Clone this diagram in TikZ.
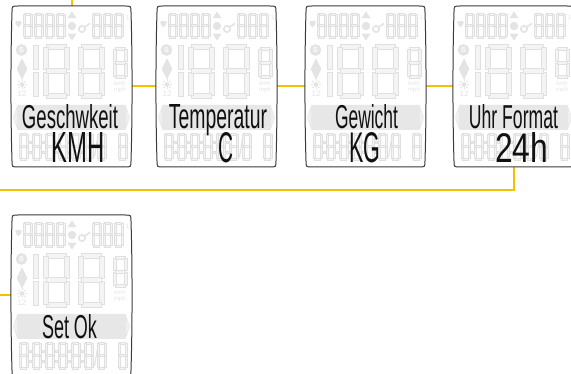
\documentclass[tikz,border=0pt]{standalone}
\usepackage{fontspec}
\setmainfont{Liberation Sans}
\usepackage{graphicx}
\usetikzlibrary{backgrounds}

\definecolor{linkyellow}{HTML}{F6C200}
\definecolor{frame}{HTML}{3A3A3A}
\definecolor{segfill}{HTML}{F4F4F4}
\definecolor{segline}{HTML}{E0E0E0}
\definecolor{icongrey}{HTML}{E4E4E4}
\definecolor{bandgrey}{HTML}{E7E7E7}
\definecolor{ink}{HTML}{111111}

\tikzset{
  link/.style={draw=linkyellow, line width=2pt},
  panelbox/.style={minimum width=119pt, minimum height=161pt, inner sep=0pt, outer sep=0pt},
  segment/.style={fill=segfill, draw=segline, line width=0.5pt},
  faded/.style={fill=icongrey, draw=segline, line width=0.4pt},
  fadedtext/.style={text=icongrey, inner sep=0pt, font=\fontsize{7}{7}\selectfont},
  labeltext/.style={anchor=base, inner sep=0pt, text=ink},
  displayframe/.style={draw=frame, fill=white, line width=1pt},
}

% label in the text band and value below it, stretched to the display's letter size
\newcommand\lab[2]{\resizebox{#1pt}{24pt}{#2}}
\newcommand\val[2]{\resizebox{#1pt}{30pt}{#2}}

% seven-segment digit: left x, top y, width, height, stroke
\newcommand\segdigit[5]{%
  \path[segment] ({#1+0.6*#5},{#2}) rectangle ({#1+#3-0.6*#5},{#2+#5});
  \path[segment] ({#1+#3-#5},{#2+0.6*#5}) rectangle ({#1+#3},{#2+#4/2-0.3*#5});
  \path[segment] ({#1+#3-#5},{#2+#4/2+0.3*#5}) rectangle ({#1+#3},{#2+#4-0.6*#5});
  \path[segment] ({#1+0.6*#5},{#2+#4-#5}) rectangle ({#1+#3-0.6*#5},{#2+#4});
  \path[segment] ({#1},{#2+#4/2+0.3*#5}) rectangle ({#1+#5},{#2+#4-0.6*#5});
  \path[segment] ({#1},{#2+0.6*#5}) rectangle ({#1+#5},{#2+#4/2-0.3*#5});
  \path[segment] ({#1+0.6*#5},{#2+#4/2-#5/2}) rectangle ({#1+#3-0.6*#5},{#2+#4/2+#5/2});
}
% single vertical pair (the leading "1"): x, top y, height, stroke
\newcommand\segone[4]{%
  \path[segment] ({#1},{#2+0.3*#4}) rectangle ({#1+#4},{#2+#3/2-0.3*#4});
  \path[segment] ({#1},{#2+#3/2+0.3*#4}) rectangle ({#1+#4},{#2+#3-0.3*#4});
}

% one display: name, left, top, label centre x, label, value centre x, value
\newcommand\lcdpanel[7]{%
  \node[panelbox] (#1) at ({#2+59.5},{#3+80.5}) {};
  \begin{scope}[shift={(#2,#3)}]
    \path[displayframe] (6,0) -- (113,0) .. controls (119,0) .. (119,6)
      .. controls (120.4,50) and (120.4,111) .. (119,155)
      .. controls (119,161) .. (113,161) -- (6,161)
      .. controls (0,161) .. (0,155)
      .. controls (-1.4,111) and (-1.4,50) .. (0,6)
      .. controls (0,0) .. (6,0) -- cycle;
    % top row: heart, four digits, scroll mark, sigma mark, three digits
    \path[faded] (6.5,21) .. controls (2.5,18) and (3,13.5) .. (6.5,15.5)
      .. controls (10,13.5) and (10.5,18) .. (6.5,21) -- cycle;
    \foreach \i in {0,...,3} {\segdigit{11+11*\i}{7}{9}{25}{2.2}}
    \path[faded] (56,12) -- (60,6) -- (64,12) -- cycle;
    \path[faded] (60,20) circle (3.8);
    \path[faded] (56,28) -- (60,34) -- (64,28) -- cycle;
    \path[draw=icongrey, line width=1.6pt] (70,23) circle (3.2);
    \path[draw=icongrey, line width=1.6pt] (72.8,21) -- (78,17.5);
    \foreach \i in {0,...,2} {\segdigit{80+11*\i}{7}{9}{25}{2.2}}
    \node[fadedtext, font=\fontsize{6}{6}\selectfont] at (115.5,11) {1};
    % left column icons
    \path[faded] (9.5,44) circle (5.5);
    \node[text=white, inner sep=0pt, font=\bfseries\fontsize{7}{7}\selectfont] at (9.5,44) {S};
    \path[faded] (10,53) -- (15,63) -- (10,73) -- (5,63) -- cycle;
    \path[faded] (10,78.5) circle (2);
    \foreach \a in {0,45,...,315} {\path[draw=icongrey, line width=0.8pt] (10,78.5) ++(\a:3) -- ++(\a:2);}
    \node[fadedtext, font=\fontsize{8}{8}\selectfont] at (10,88) {12};
    % main digits, unit digit and unit names
    \segone{21}{38}{54}{5}
    \segdigit{31}{38}{26}{54}{5}
    \segdigit{66}{38}{26}{54}{5}
    \segdigit{101}{41}{14}{31}{3}
    \node[fadedtext, font=\fontsize{6}{6}\selectfont] at (108,77) {kmh};
    \node[fadedtext, font=\fontsize{6}{6}\selectfont] at (108,84) {mph};
    % text band with its side arrows
    \path[fill=bandgrey] (1,111.5) -- (5.5,99) -- (113.5,99) -- (118,111.5)
      -- (113.5,124) -- (5.5,124) -- cycle;
    \path[fill=icongrey!80!black!20!white] (1.2,111.5) -- (5,104) -- (5,119) -- cycle;
    \path[fill=icongrey!80!black!20!white] (117.8,111.5) -- (114,104) -- (114,119) -- cycle;
    % bottom row of small digits
    \foreach \i in {0,...,6} {\segdigit{7+13*\i}{127}{9}{27}{2.2}}
    \foreach \i in {0,...,4} {
      \path[segment] ({17+13*\i},135) rectangle ++(2,2);
      \path[segment] ({17+13*\i},145) rectangle ++(2,2);}
    \path[draw=segline, line width=1pt] (82.5,151) -- (86,130);
    \segdigit{106}{127}{9}{27}{2.2}
    % readout
    \node[labeltext] (#1l) at (#4,123) {#5};
    \node[labeltext] (#1v) at (#6,157) {#7};
  \end{scope}}

\begin{document}
\begin{tikzpicture}[x=1pt, y=-1pt]
  \useasboundingbox (0,0) rectangle (571,374);
  \clip (0,0) rectangle (571,374);

  \lcdpanel{p1}{12}{6}{58}{\lab{96}{Geschwkeit}}{66.5}{\val{53}{KMH}}
  \lcdpanel{p2}{157}{6}{61}{\lab{98}{Temperatur}}{68.5}{\val{15}{C}}
  \lcdpanel{p3}{306}{6}{60.5}{\lab{63}{Gewicht}}{58.5}{\val{31}{KG}}
  \lcdpanel{p4}{454}{6}{59.5}{\lab{89}{Uhr Format}}{67.5}{\val{53}{24h}}
  \lcdpanel{p5}{12}{215}{57.5}{\lab{55}{Set Ok}}{59.5}{}

  \coordinate (enterTop) at (71.5,0);
  \coordinate (wrapLeft) at (0,190);
  \coordinate (enterLeft) at (0,295.5);

  \begin{scope}[on background layer]
    \draw[link] (enterTop) -- (p1.north);
    \draw[link] (p1.east) -- (p2.west);
    \draw[link] (p2.east) -- (p3.west);
    \draw[link] (p3.east) -- (p4.west);
    \draw[link] (p4.south) |- (wrapLeft);
    \draw[link] (enterLeft) -- (p5.west);
  \end{scope}
\end{tikzpicture}
\end{document}
